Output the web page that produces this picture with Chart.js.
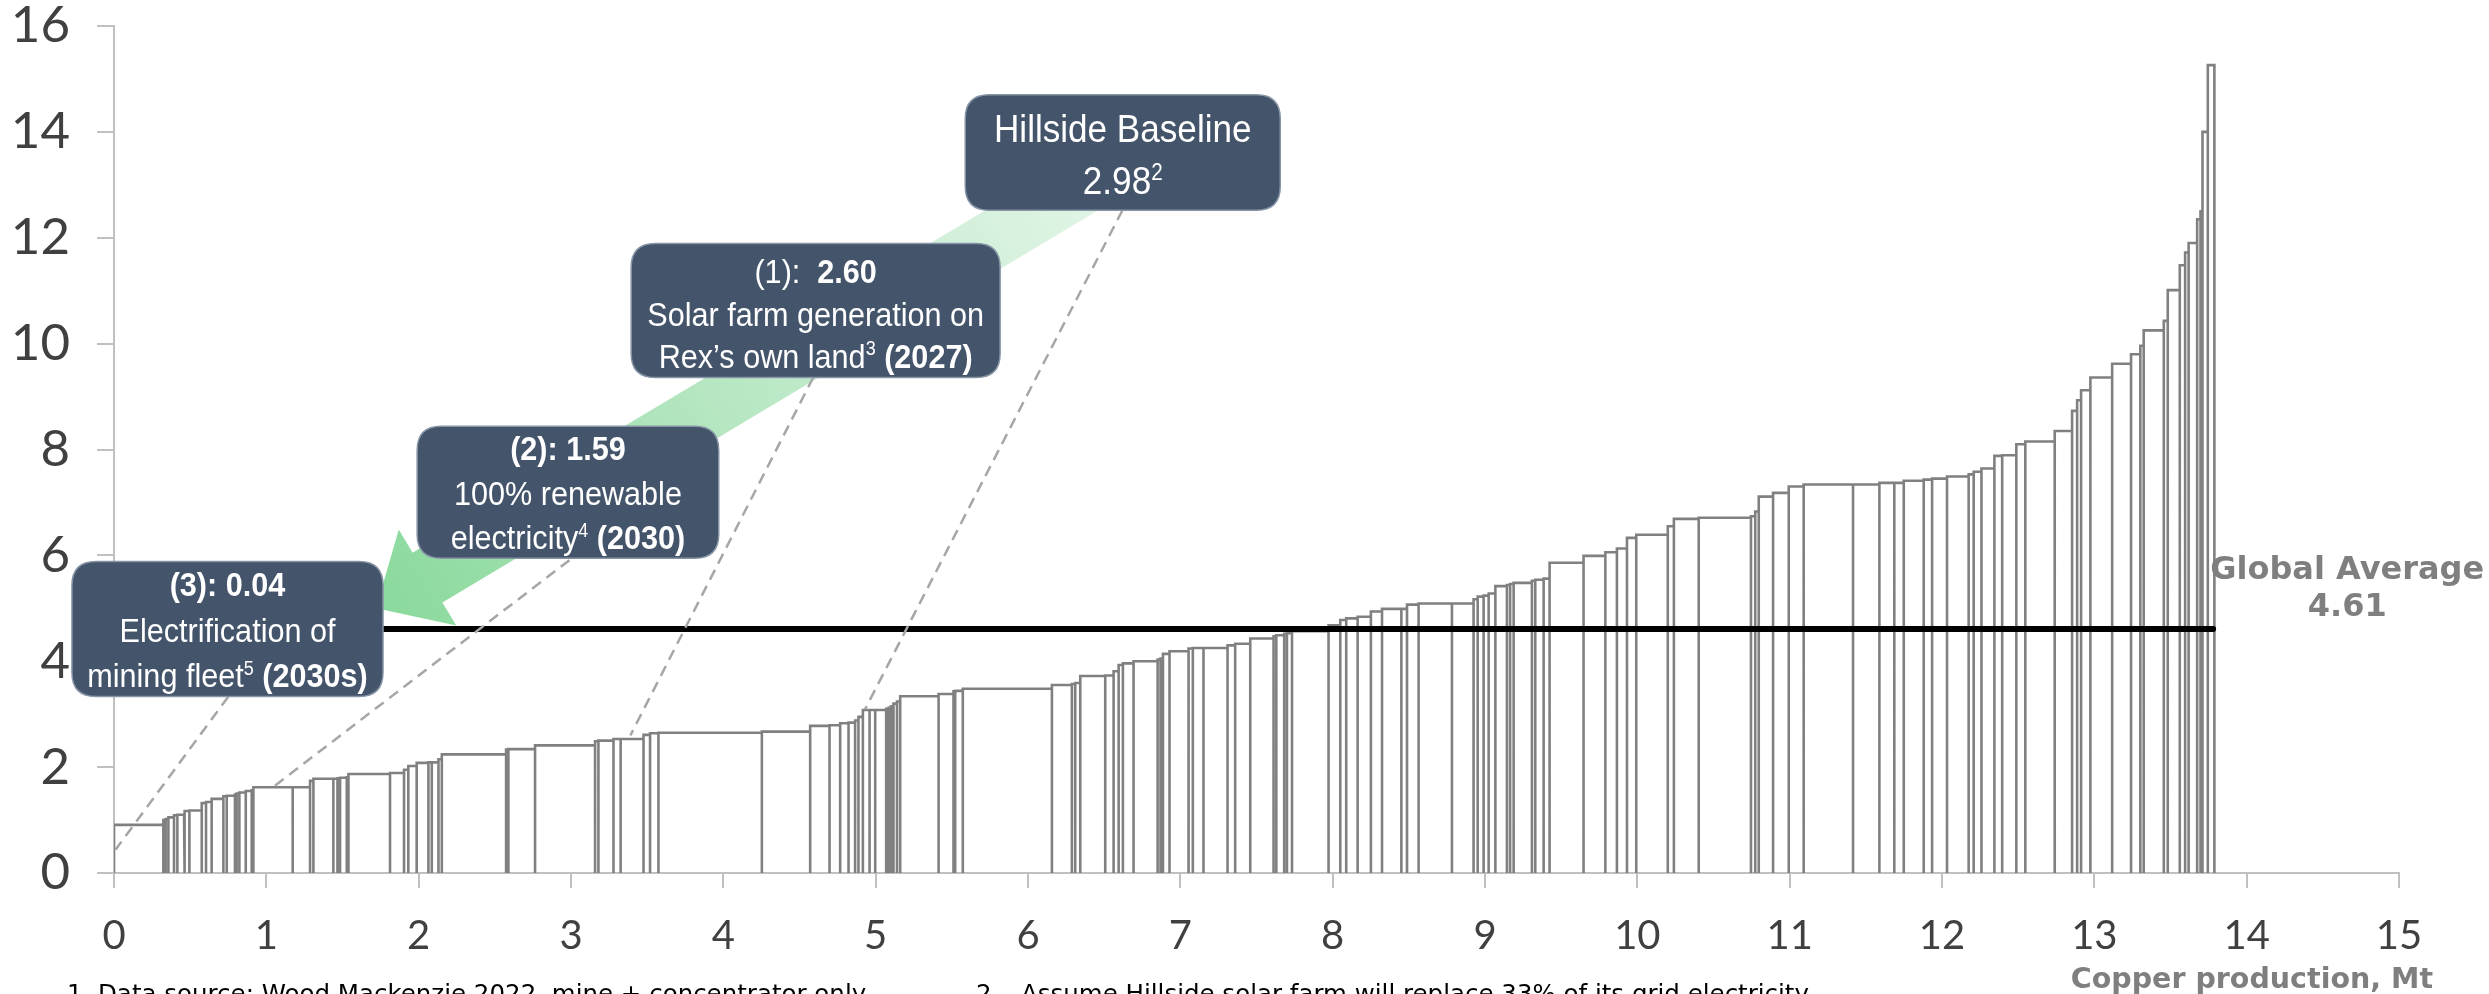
<!DOCTYPE html>
<html>
<head>
<meta charset="utf-8">
<script src="https://cdn.jsdelivr.net/npm/chart.js@4.4.1/dist/chart.umd.min.js"></script>
<style>
  html, body { margin: 0; padding: 0; background: #ffffff; overflow: hidden; }
  #wrap { position: relative; width: 2489px; height: 994px; }
</style>
</head>
<body>
<div id="wrap"><canvas id="curve" width="2489" height="994"></canvas></div>
<script>
// Cumulative copper production (Mt) at the right edge of each mine, mines sorted by intensity
const cumulativeMt = [
  0.324, 0.339, 0.357, 0.394, 0.416, 0.460, 0.466, 0.495, 0.576, 0.604,
  0.641, 0.718, 0.740, 0.794, 0.805, 0.823, 0.865, 0.904, 0.915, 1.173,
  1.287, 1.309, 1.440, 1.467, 1.484, 1.528, 1.539, 1.812, 1.904, 1.932,
  1.987, 2.064, 2.086, 2.130, 2.152, 2.574, 2.589, 2.764, 3.158, 3.180,
  3.279, 3.326, 3.476, 3.519, 3.574, 4.253, 4.570, 4.697, 4.767, 4.822,
  4.865, 4.887, 4.916, 4.960, 4.997, 5.069, 5.085, 5.100, 5.117, 5.140,
  5.161, 5.413, 5.511, 5.522, 5.572, 6.157, 6.288, 6.310, 6.343, 6.507,
  6.562, 6.595, 6.623, 6.693, 6.851, 6.870, 6.886, 6.929, 7.054, 7.082,
  7.152, 7.310, 7.360, 7.459, 7.612, 7.630, 7.682, 7.700, 7.733, 7.973,
  8.050, 8.089, 8.164, 8.251, 8.324, 8.451, 8.488, 8.564, 8.783, 8.925,
  8.952, 8.991, 9.024, 9.068, 9.144, 9.165, 9.188, 9.308, 9.330, 9.385,
  9.424, 9.647, 9.790, 9.866, 9.932, 9.993, 10.200, 10.240, 10.403, 10.746,
  10.774, 10.797, 10.891, 10.994, 11.092, 11.416, 11.589, 11.687, 11.749, 11.880,
  11.935, 12.033, 12.175, 12.208, 12.259, 12.344, 12.395, 12.488, 12.547, 12.740,
  12.854, 12.887, 12.913, 12.974, 13.117, 13.241, 13.302, 13.324, 13.456, 13.482,
  13.561, 13.596, 13.619, 13.675, 13.697, 13.710, 13.745, 13.788
];

// Emissions intensity of each mine, same order
const intensity = [
  0.91, 1.00, 1.02, 1.05, 1.09, 1.10, 1.11, 1.17, 1.18, 1.32,
  1.34, 1.40, 1.45, 1.46, 1.48, 1.50, 1.52, 1.55, 1.56, 1.62,
  1.62, 1.74, 1.78, 1.78, 1.79, 1.80, 1.81, 1.87, 1.89, 1.95,
  2.02, 2.08, 2.09, 2.09, 2.15, 2.24, 2.33, 2.34, 2.41, 2.49,
  2.50, 2.53, 2.53, 2.61, 2.64, 2.65, 2.67, 2.78, 2.79, 2.83,
  2.84, 2.88, 2.95, 3.08, 3.08, 3.08, 3.10, 3.12, 3.15, 3.20,
  3.24, 3.34, 3.38, 3.43, 3.44, 3.48, 3.55, 3.57, 3.59, 3.72,
  3.73, 3.81, 3.93, 3.96, 4.00, 4.03, 4.05, 4.14, 4.19, 4.24,
  4.25, 4.25, 4.30, 4.33, 4.43, 4.47, 4.49, 4.52, 4.53, 4.57,
  4.68, 4.78, 4.81, 4.84, 4.94, 4.99, 4.99, 5.07, 5.09, 5.09,
  5.17, 5.22, 5.24, 5.28, 5.42, 5.44, 5.46, 5.48, 5.52, 5.54,
  5.56, 5.86, 5.99, 6.06, 6.13, 6.33, 6.39, 6.55, 6.69, 6.71,
  6.74, 6.83, 7.11, 7.18, 7.30, 7.34, 7.34, 7.37, 7.37, 7.41,
  7.43, 7.45, 7.49, 7.53, 7.58, 7.64, 7.88, 7.89, 8.10, 8.15,
  8.35, 8.73, 8.93, 9.12, 9.36, 9.62, 9.80, 9.96, 10.25, 10.43,
  11.01, 11.48, 11.72, 11.90, 12.35, 12.50, 14.00, 15.26
];

const xTickValues = [0, 1, 2, 3, 4, 5, 6, 7, 8, 9, 10, 11, 12, 13, 14, 15];
const yTickValues = [0, 2, 4, 6, 8, 10, 12, 14, 16];

const globalAverage = 4.61;
const averageLineEnd = 13.78;

const axisTitle = 'Copper production, Mt';
const footnotes = [
  { num: '1.', text: 'Data source: Wood Mackenzie 2022, mine + concentrator only' },
  { num: '2.', text: 'Assume Hillside solar farm will replace 33% of its grid electricity' }
];

// Pathway call-outs: box extent (axis units), text lines, leader from box to curve (axis units)
const steps = [
  { box: [5.588, 7.656, 12.52, 14.70], size: 39, base: [47, 99],
    lines: [[{ t: 'Hillside Baseline' }], [{ t: '2.98' }, { t: '2', sup: true }]],
    leader: [6.62, 12.52, 4.93, 3.09] },
  { box: [3.395, 5.817, 9.36, 11.89], size: 34, base: [39, 82, 124],
    lines: [[{ t: '(1):  ' }, { t: '2.60', b: true }],
            [{ t: 'Solar farm generation on' }],
            [{ t: 'Rex\u2019s own land' }, { t: '3', sup: true }, { t: ' ' }, { t: '(2027)', b: true }]],
    leader: [4.59, 9.36, 3.39, 2.60] },
  { box: [1.99, 3.97, 5.945, 8.44], size: 34, base: [34, 79, 123],
    lines: [[{ t: '(2): 1.59', b: true }],
            [{ t: '100% renewable' }],
            [{ t: 'electricity' }, { t: '4', sup: true }, { t: ' ' }, { t: '(2030)', b: true }]],
    leader: [2.99, 5.91, 1.02, 1.57] },
  { box: [-0.276, 1.766, 3.334, 5.886], size: 34, base: [35, 81, 126],
    lines: [[{ t: '(3): 0.04', b: true }],
            [{ t: 'Electrification of' }],
            [{ t: 'mining fleet' }, { t: '5', sup: true }, { t: ' ' }, { t: '(2030s)', b: true }]],
    leader: [0.75, 3.33, 0.01, 0.44] }
];

// Reduction pathway arrow: tail and tip in axis units
const pathwayArrow = { from: [6.474, 13.18], to: [1.72, 5.00] };

// Plot area edges on the canvas
const PLOT_TOP = 26;

// Outline of the cost curve: every mine is a rectangle from the axis up to its intensity
function curvePath() {
  const pts = [];
  let left = 0;
  for (let i = 0; i < cumulativeMt.length; i++) {
    const right = cumulativeMt[i];
    const h = intensity[i];
    pts.push({ x: left, y: 0 }, { x: left, y: h }, { x: right, y: h }, { x: right, y: 0 });
    left = right;
  }
  return pts;
}

const BOX_FONT = '"Liberation Sans", Arial, sans-serif';
const BOX_STRETCH = 0.9;
const LABEL_FONT = '"DejaVu Sans", Verdana, sans-serif';

function drawRuns(ctx, runs, cx, baseline, size) {
  const measured = runs.map(r => {
    const s = r.sup ? Math.round(size * 0.6) : size;
    const font = (r.b ? 'bold ' : '') + s + 'px ' + BOX_FONT;
    ctx.font = font;
    return { r, font, w: ctx.measureText(r.t).width };
  });
  const total = measured.reduce((a, m) => a + m.w, 0);
  ctx.save();
  ctx.translate(cx, baseline);
  ctx.scale(BOX_STRETCH, 1);
  let x = -total / 2;
  ctx.textAlign = 'left';
  ctx.textBaseline = 'alphabetic';
  for (const m of measured) {
    ctx.font = m.font;
    ctx.fillText(m.r.t, x, m.r.sup ? -size * 0.36 : 0);
    x += m.w;
  }
  ctx.restore();
}

function roundedRect(ctx, x, y, w, h, r) {
  ctx.beginPath();
  ctx.moveTo(x + r, y);
  ctx.lineTo(x + w - r, y);
  ctx.quadraticCurveTo(x + w, y, x + w, y + r);
  ctx.lineTo(x + w, y + h - r);
  ctx.quadraticCurveTo(x + w, y + h, x + w - r, y + h);
  ctx.lineTo(x + r, y + h);
  ctx.quadraticCurveTo(x, y + h, x, y + h - r);
  ctx.lineTo(x, y + r);
  ctx.quadraticCurveTo(x, y, x + r, y);
  ctx.closePath();
}

// Pin the top of the plot area so the value axis spans the full height
const plotAreaPlugin = {
  id: 'plotArea',
  afterLayout(chart) {
    const area = chart.chartArea;
    const y = chart.scales.y;
    area.top = PLOT_TOP;
    area.height = area.bottom - area.top;
    y.top = PLOT_TOP;
    y.height = y.bottom - y.top;
    y.configure();
  }
};

const calloutPlugin = {
  id: 'callouts',
  afterDatasetsDraw(chart) {
    const ctx = chart.ctx;
    const xs = chart.scales.x, ys = chart.scales.y;
    const px = v => xs.getPixelForValue(v);
    const py = v => ys.getPixelForValue(v);

    // green pathway arrow
    const sx = px(pathwayArrow.from[0]), sy = py(pathwayArrow.from[1]);
    const tx = px(pathwayArrow.to[0]), ty = py(pathwayArrow.to[1]);
    const dx = tx - sx, dy = ty - sy, len = Math.hypot(dx, dy);
    const ux = dx / len, uy = dy / len, nx = -uy, ny = ux;
    const shaft = 29, headLen = 60, headHalf = 56;
    const bx = tx - ux * headLen, by = ty - uy * headLen;
    const grad = ctx.createLinearGradient(sx, sy, tx, ty);
    grad.addColorStop(0, '#e2f5e7');
    grad.addColorStop(0.55, '#b4e6c0');
    grad.addColorStop(1, '#8ad99c');
    ctx.save();
    ctx.fillStyle = grad;
    ctx.beginPath();
    ctx.moveTo(sx + nx * shaft, sy + ny * shaft);
    ctx.lineTo(bx + nx * shaft, by + ny * shaft);
    ctx.lineTo(bx + nx * headHalf, by + ny * headHalf);
    ctx.lineTo(tx, ty);
    ctx.lineTo(bx - nx * headHalf, by - ny * headHalf);
    ctx.lineTo(bx - nx * shaft, by - ny * shaft);
    ctx.lineTo(sx - nx * shaft, sy - ny * shaft);
    ctx.closePath();
    ctx.fill();
    ctx.restore();

    // dashed leaders from each call-out to its point on the curve
    ctx.save();
    ctx.strokeStyle = '#a6a6a6';
    ctx.lineWidth = 2.5;
    ctx.setLineDash([11, 7]);
    for (const s of steps) {
      const [x0, y0, x1, y1] = s.leader;
      ctx.beginPath();
      ctx.moveTo(px(x0), py(y0));
      ctx.lineTo(px(x1), py(y1));
      ctx.stroke();
    }
    ctx.restore();

    // call-out boxes
    for (const s of steps) {
      const [x0, x1, y0, y1] = s.box;
      const left = px(x0), right = px(x1), top = py(y1), bottom = py(y0);
      ctx.save();
      roundedRect(ctx, left, top, right - left, bottom - top, 24);
      ctx.fillStyle = '#44546a';
      ctx.fill();
      ctx.lineWidth = 1.5;
      ctx.strokeStyle = '#8794a6';
      ctx.stroke();
      ctx.fillStyle = '#ffffff';
      const cx = (left + right) / 2;
      s.lines.forEach((runs, i) => drawRuns(ctx, runs, cx, top + s.base[i], s.size));
      ctx.restore();
    }
  },
  afterDraw(chart) {
    const ctx = chart.ctx;
    const xs = chart.scales.x, ys = chart.scales.y;
    const avgY = ys.getPixelForValue(globalAverage);
    const labelX = xs.getPixelForValue(14.66);
    ctx.save();
    ctx.fillStyle = '#7f7f7f';
    ctx.textAlign = 'center';
    ctx.textBaseline = 'alphabetic';
    ctx.font = 'bold 32px ' + LABEL_FONT;
    ctx.fillText('Global Average', labelX, avgY - 50);
    ctx.fillText(globalAverage.toFixed(2), labelX, avgY - 13);

    ctx.textAlign = 'right';
    ctx.font = 'bold 28.5px ' + LABEL_FONT;
    ctx.fillText(axisTitle, 2433, 988);

    ctx.fillStyle = '#000000';
    ctx.textAlign = 'left';
    ctx.font = '24.5px ' + LABEL_FONT;
    ctx.fillText(footnotes[0].num, 67, 1002);
    ctx.fillText(footnotes[0].text, 98, 1002);
    ctx.fillText(footnotes[1].num, 976, 1002);
    ctx.fillText(footnotes[1].text, 1021, 1002);
    ctx.restore();
  }
};

const axisGrey = '#c0c0c0';

new Chart(document.getElementById('curve'), {
  type: 'scatter',
  data: {
    datasets: [
      {
        label: 'Global average',
        data: [{ x: 0, y: globalAverage }, { x: averageLineEnd, y: globalAverage }],
        showLine: true,
        borderColor: '#000000',
        borderWidth: 6,
        borderCapStyle: 'round',
        pointRadius: 0,
        order: 1
      },
      {
        label: 'Mines',
        data: curvePath(),
        showLine: true,
        borderColor: '#808080',
        borderWidth: 2.6,
        borderJoinStyle: 'miter',
        backgroundColor: 'rgba(0,0,0,0)',
        fill: false,
        pointRadius: 0,
        tension: 0,
        order: 2
      }
    ]
  },
  options: {
    responsive: false,
    animation: false,
    events: [],
    layout: { autoPadding: false, padding: { top: PLOT_TOP, right: 90, left: 0, bottom: 0 } },
    plugins: { legend: { display: false }, tooltip: { enabled: false } },
    scales: {
      x: {
        type: 'linear',
        min: 0,
        max: 15,
        afterFit(scale) { scale.height = 121; },
        afterBuildTicks(scale) { scale.ticks = xTickValues.map(v => ({ value: v })); },
        grid: { display: true, drawOnChartArea: false, drawTicks: true, tickLength: 15, color: axisGrey, lineWidth: 2 },
        border: { display: true, color: axisGrey, width: 2 },
        ticks: { font: { family: 'Lato', size: 40 }, color: '#404040', padding: 24, maxRotation: 0, autoSkip: false }
      },
      y: {
        type: 'linear',
        min: 0,
        max: 16,
        afterFit(scale) { scale.width = 114; },
        afterBuildTicks(scale) { scale.ticks = yTickValues.map(v => ({ value: v })); },
        grid: { display: true, drawOnChartArea: false, drawTicks: true, tickLength: 17, color: axisGrey, lineWidth: 2 },
        border: { display: true, color: axisGrey, width: 2 },
        ticks: { font: { family: 'Lato', size: 51 }, color: '#404040', padding: 27 }
      }
    }
  },
  plugins: [plotAreaPlugin, calloutPlugin]
});
</script>
</body>
</html>
